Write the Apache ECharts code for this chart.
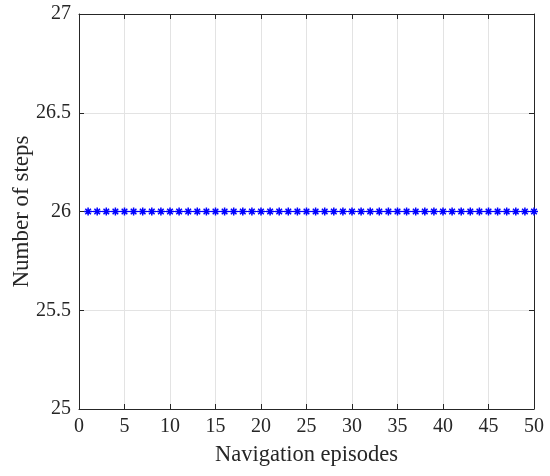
<!DOCTYPE html>
<html><head><meta charset="utf-8">
<script src="https://cdn.jsdelivr.net/npm/echarts@6/dist/echarts.min.js"></script>
<style>html,body{margin:0;padding:0;background:#fff}#c{width:550px;height:476px}</style>
</head><body><div id="c"></div>
<script>
const episodes = [1,2,3,4,5,6,7,8,9,10,11,12,13,14,15,16,17,18,19,20,21,22,23,24,25,26,27,28,29,30,31,32,33,34,35,36,37,38,39,40,41,42,43,44,45,46,47,48,49,50];
const steps = [26,26,26,26,26,26,26,26,26,26,26,26,26,26,26,26,26,26,26,26,26,26,26,26,26,26,26,26,26,26,26,26,26,26,26,26,26,26,26,26,26,26,26,26,26,26,26,26,26,26];
const xLabel = 'Navigation episodes';
const yLabel = 'Number of steps';
const font = 'Liberation Serif';
const txt = '#262626';
const chart = echarts.init(document.getElementById('c'));
const axisCommon = {
  axisLine:{show:true,onZero:false,lineStyle:{color:txt,width:1}},
  axisTick:{show:true,inside:true,length:5,lineStyle:{color:txt}},
};
const lbl = {
  fontFamily:font,fontSize:20,color:txt,margin:8,
  formatter:v=>'{a|'+v+'}',
  rich:{a:{fontFamily:font,fontSize:20,color:txt}}
};
chart.setOption({
  animation:false,
  textStyle:{fontFamily:font},
  grid:{left:79,right:16,top:14,bottom:67,outerBoundsMode:'none',containLabel:false},
  xAxis:[{
    type:'value',min:0,max:50,interval:5,
    name:xLabel,nameLocation:'middle',nameGap:35,nameMoveOverlap:false,
    nameTextStyle:{fontFamily:font,fontSize:22.5,color:txt},
    axisLabel:lbl,
    splitLine:{show:true,lineStyle:{color:'#e3e3e3',width:1}},
    ...axisCommon
  },{
    type:'value',min:0,max:50,interval:5,position:'top',
    axisLabel:{show:false},splitLine:{show:false},...axisCommon
  }],
  yAxis:[{
    type:'value',min:25,max:27,interval:0.5,
    name:yLabel,nameLocation:'middle',nameGap:46,nameMoveOverlap:false,
    nameTextStyle:{fontFamily:font,fontSize:23,color:txt},
    axisLabel:lbl,
    splitLine:{show:true,lineStyle:{color:'#e3e3e3',width:1}},
    ...axisCommon
  },{
    type:'value',min:25,max:27,interval:0.5,position:'right',
    axisLabel:{show:false},splitLine:{show:false},...axisCommon
  }],
  series:[{
    type:'line',
    data:episodes.map((e,i)=>[e,steps[i]]),
    lineStyle:{color:'#0000ff',width:1},
    symbol:'path://M5 0 L5 10 M0 5 L10 5 M1.5 1.5 L8.5 8.5 M8.5 1.5 L1.5 8.5',
    symbolSize:8,
    itemStyle:{color:'#0000ff',borderColor:'#0000ff',borderWidth:1.5},
    z:5
  }]
});
</script></body></html>
